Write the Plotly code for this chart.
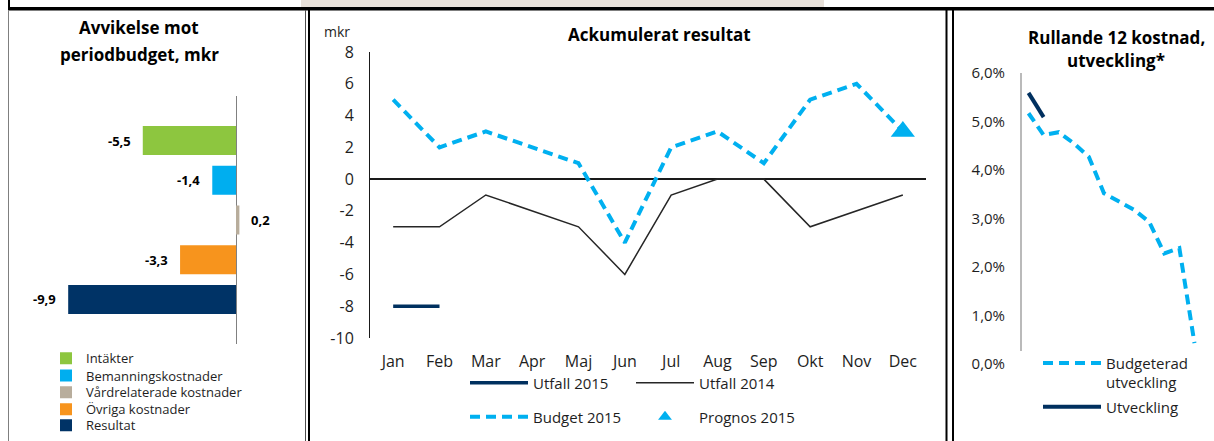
import plotly.graph_objects as go

W, H = 1214, 441

# ---------------- data ----------------
dev_categories = ["Intäkter", "Bemanningskostnader", "Vårdrelaterade kostnader",
                  "Övriga kostnader", "Resultat"]
dev_values = [-5.5, -1.4, 0.2, -3.3, -9.9]
dev_colors = ["#8DC63F", "#00AEEF", "#B8AD9C", "#F7941D", "#003366"]

months = ["Jan", "Feb", "Mar", "Apr", "Maj", "Jun", "Jul", "Aug", "Sep", "Okt", "Nov", "Dec"]
utfall_2015_months = ["Jan", "Feb"]
utfall_2015 = [-8, -8]
utfall_2014 = [-3, -3, -1, -2, -3, -6, -1, 0, 0, -3, -2, -1]
budget_2015 = [5, 2, 3, 2, 1, -4, 2, 3, 1, 5, 6, 3]
prognos_months = ["Dec"]
prognos_2015 = [3]
acc_ticks = [-10, -8, -6, -4, -2, 0, 2, 4, 6, 8]
acc_ticklabels = ["-10", "-8", "-6", "-4", "-2", "0", "2", "4", "6", "8"]

roll_budget = [5.17, 4.72, 4.78, 4.55, 4.27, 3.52, 3.35, 3.18, 2.93, 2.28, 2.39, 0.43]
roll_utfall_months = ["Jan", "Feb"]
roll_utfall = [5.59, 5.09]
pct_ticks = [0, 1, 2, 3, 4, 5, 6]
pct_ticklabels = ["0,0%", "1,0%", "2,0%", "3,0%", "4,0%", "5,0%", "6,0%"]

LIGHT_BLUE = "#00B0F0"
NAVY = "#00305F"
TXT = "#1e1e1e"


def px(x):
    return x / W


def py(y):
    return 1 - y / H


def fmt(v):
    return f"{v:.1f}".replace(".", ",")


fig = go.Figure()

# ---------------- left: horizontal bars ----------------
for i, (cat, val, col) in enumerate(zip(dev_categories, dev_values, dev_colors)):
    fig.add_trace(go.Bar(
        x=[val], y=[cat], orientation="h", name=cat,
        marker=dict(color=col, line=dict(width=0)),
        xaxis="x", yaxis="y",
        legend="legend" if i == 0 else f"legend{i + 1}",
        hoverinfo="skip",
    ))

# ---------------- middle: accumulated result ----------------
fig.add_trace(go.Scatter(
    x=utfall_2015_months, y=utfall_2015, name="Utfall 2015", mode="lines",
    line=dict(color=NAVY, width=3.5), xaxis="x2", yaxis="y2", legend="legend6"))
fig.add_trace(go.Scatter(
    x=months, y=utfall_2014, name="Utfall 2014", mode="lines",
    line=dict(color="#262626", width=1.5), xaxis="x2", yaxis="y2", legend="legend7"))
fig.add_trace(go.Scatter(
    x=months, y=budget_2015, name="Budget 2015", mode="lines",
    line=dict(color=LIGHT_BLUE, width=4, dash="10px,6px"), xaxis="x2", yaxis="y2",
    legend="legend8"))
fig.add_trace(go.Scatter(
    x=prognos_months, y=prognos_2015, name="Prognos 2015", mode="markers",
    marker=dict(symbol="triangle-up", size=21, color=LIGHT_BLUE, line=dict(width=0)),
    xaxis="x2", yaxis="y2", legend="legend9"))

# ---------------- right: rolling 12 ----------------
fig.add_trace(go.Scatter(
    x=months, y=roll_budget, name="Budgeterad<br>utveckling", mode="lines",
    line=dict(color=LIGHT_BLUE, width=4, dash="10px,6px"), xaxis="x3", yaxis="y3",
    legend="legend10"))
fig.add_trace(go.Scatter(
    x=roll_utfall_months, y=roll_utfall, name="Utveckling", mode="lines",
    line=dict(color=NAVY, width=4), xaxis="x3", yaxis="y3", legend="legend11"))

# ---------------- annotations ----------------
ann = []
for cat, val in zip(dev_categories, dev_values):
    ann.append(dict(x=val, y=cat, xref="x", yref="y", text=f"<b>{fmt(val)}</b>",
                    showarrow=False, xanchor="right" if val < 0 else "left",
                    xshift=-10 if val < 0 else 10, yanchor="middle",
                    font=dict(size=13, color="#000")))


def title(text, x, y, size):
    return dict(x=px(x), y=py(y), xref="paper", yref="paper", text=f"<b>{text}</b>",
                showarrow=False, xanchor="center", yanchor="middle",
                font=dict(size=size, color="#000"))


ann += [
    title("Avvikelse mot", 139, 27.5, 17),
    title("periodbudget, mkr", 139.5, 54, 17),
    title("Ackumulerat resultat", 659, 34.5, 17),
    title("Rullande 12 kostnad,", 1116, 37.5, 17),
    title("utveckling*", 1116, 60.5, 17),
    dict(x=px(337), y=py(31), xref="paper", yref="paper", text="mkr",
         showarrow=False, xanchor="center", yanchor="middle", borderpad=0,
         font=dict(size=14, color=TXT)),
]

# ---------------- frame shapes ----------------
shapes = [
    dict(type="rect", xref="paper", yref="paper", x0=px(301), x1=px(824), y0=py(0), y1=py(7),
         fillcolor="#E8E1DA", line=dict(width=0), layer="below"),
    dict(type="rect", xref="paper", yref="paper", x0=px(8), x1=px(1214), y0=py(7), y1=py(10.5),
         fillcolor="#000", line=dict(width=0)),
    dict(type="rect", xref="paper", yref="paper", x0=px(8), x1=px(10), y0=py(0), y1=py(10),
         fillcolor="#000", line=dict(width=0)),
    dict(type="line", xref="paper", yref="paper", x0=px(8.5), x1=px(8.5), y0=py(10), y1=py(441),
         line=dict(color="#7f7f7f", width=1)),
    dict(type="line", xref="paper", yref="paper", x0=px(305.5), x1=px(305.5), y0=py(10), y1=py(441),
         line=dict(color="#4d4d4d", width=1)),
    dict(type="line", xref="paper", yref="paper", x0=px(309), x1=px(309), y0=py(10), y1=py(441),
         line=dict(color="#000", width=2)),
    dict(type="line", xref="paper", yref="paper", x0=px(946.5), x1=px(946.5), y0=py(10), y1=py(441),
         line=dict(color="#000", width=2)),
    dict(type="line", xref="paper", yref="paper", x0=px(953), x1=px(953), y0=py(10), y1=py(441),
         line=dict(color="#000", width=2)),
    # right chart value axis line
    dict(type="line", xref="x3 domain", yref="y3", x0=0, x1=0, y0=0.27, y1=6,
         line=dict(color="#8c8c8c", width=1.2)),
]


def leg(x_origin, y_center, size, itemwidth=30, valign="middle", itemsizing="trace"):
    return dict(x=px(x_origin), y=py(y_center), xanchor="left", yanchor="middle",
                bgcolor="rgba(0,0,0,0)", borderwidth=0, itemwidth=itemwidth,
                valign=valign, itemsizing=itemsizing,
                font=dict(size=size, color=TXT, family="Open Sans"))


left_leg_y = [358.3, 375.5, 392.3, 409.3, 425.3]
layout_legends = {}
for i, yc in enumerate(left_leg_y):
    key = "legend" if i == 0 else f"legend{i + 1}"
    layout_legends[key] = leg(46, yc, 13)
layout_legends["legend6"] = leg(465, 383, 15, itemwidth=58)
layout_legends["legend7"] = leg(631, 383, 15, itemwidth=58)
layout_legends["legend8"] = leg(465, 417, 15, itemwidth=58)
layout_legends["legend9"] = leg(631, 417, 15, itemwidth=58, itemsizing="constant")
layout_legends["legend10"] = leg(1038, 372.75, 15, itemwidth=58, valign="top")
layout_legends["legend11"] = leg(1038, 407, 15, itemwidth=58)

fig.update_layout(
    width=W, height=H,
    margin=dict(l=0, r=0, t=0, b=0, pad=0, autoexpand=False),
    paper_bgcolor="white", plot_bgcolor="white",
    font=dict(family="Open Sans", color=TXT),
    barmode="relative", bargap=0.27,
    showlegend=True,
    annotations=ann, shapes=shapes,
    xaxis=dict(domain=[px(20), px(290)], range=[-(236 - 20) / 16.95, (290 - 236) / 16.95],
               showticklabels=False, showgrid=False, showline=False, ticks="",
               zeroline=True, zerolinecolor="#808080", zerolinewidth=1, anchor="y",
               automargin=False),
    yaxis=dict(domain=[py(344), py(96)], type="category", categoryorder="array",
               categoryarray=dev_categories, range=[5.12, -1.12], visible=False, anchor="x",
               automargin=False),
    xaxis2=dict(domain=[px(370), px(926)], type="category", categoryorder="array",
                categoryarray=months, range=[-0.5, 11.5], showgrid=False, showline=False,
                zeroline=False, ticks="", tickfont=dict(size=16, color=TXT),
                ticklabelstandoff=12, anchor="y2", automargin=False),
    yaxis2=dict(domain=[py(338), py(52)], range=[-10, 8], tickvals=acc_ticks,
                ticktext=acc_ticklabels, showgrid=False, showline=True, linecolor="#1a1a1a",
                linewidth=1, zeroline=True, zerolinecolor="#1a1a1a", zerolinewidth=1.5,
                ticks="", tickfont=dict(size=16, color=TXT), ticklabelstandoff=12,
                anchor="x2", automargin=False),
    xaxis3=dict(domain=[px(1021), px(1202)], type="category", categoryorder="array",
                categoryarray=months, range=[-0.5, 11.5], visible=False, anchor="y3",
                automargin=False),
    yaxis3=dict(domain=[py(364), py(73)], range=[0, 6], tickvals=pct_ticks,
                ticktext=pct_ticklabels, showgrid=False, showline=False, zeroline=False,
                ticks="", tickfont=dict(size=15, color=TXT), ticklabelstandoff=15,
                anchor="x3", automargin=False),
    **layout_legends,
)

fig.write_html(
    "out.html",
    config={"displayModeBar": False},
    post_script=(
        "document.documentElement.style.margin='0';"
        "document.documentElement.style.padding='0';"
        "document.body.style.margin='0';document.body.style.padding='0';"
        "document.body.style.overflow='hidden';"
    ),
)
